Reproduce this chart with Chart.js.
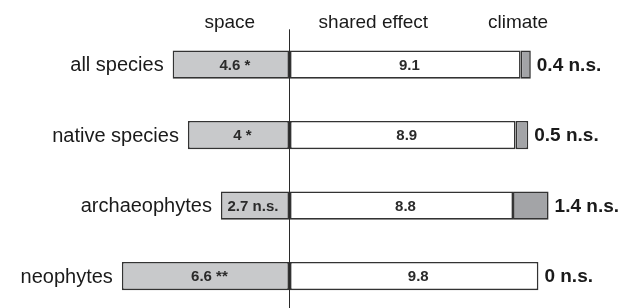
<!DOCTYPE html>
<html>
<head>
<meta charset="utf-8">
<script src="https://cdn.jsdelivr.net/npm/chart.js@4"></script>
<style>
  html, body { margin: 0; padding: 0; background: #fff; overflow: hidden; }
  #wrap { width: 635px; height: 312px; }
</style>
</head>
<body>
<div id="wrap"><canvas id="varChart" width="635" height="312"></canvas></div>
<script>
// Gruppen und Anteile
const groups = ['all species', 'native species', 'archaeophytes', 'neophytes'];
const spaceVals = [4.6, 4, 2.7, 6.6];
const sharedVals = [9.1, 8.9, 8.8, 9.8];
const climateVals = [0.4, 0.5, 1.4, 0];
const spaceSig = ['*', '*', 'n.s.', '**'];
const climateSig = ['n.s.', 'n.s.', 'n.s.', 'n.s.'];
const headers = ['space', 'shared effect', 'climate'];

const FONT = '"Liberation Sans", Arial, Helvetica, sans-serif';

// Beschriftungen neben / in den Balken
const labelPlugin = {
    id: 'labelPlugin',
    afterDatasetsDraw(chart) {
        const ctx = chart.ctx;
        const x = chart.scales.x;
        const metaSpace = chart.getDatasetMeta(0);
        const metaShared = chart.getDatasetMeta(1);
        const metaClimate = chart.getDatasetMeta(2);
        ctx.save();
        groups.forEach((g, i) => {
            const sp = metaSpace.data[i];
            const sh = metaShared.data[i];
            const cl = metaClimate.data[i];
            const y = sp.y;

            // Name links
            ctx.font = '20px ' + FONT;
            ctx.fillStyle = '#1a1a1a';
            ctx.textAlign = 'right';
            ctx.textBaseline = 'middle';
            ctx.fillText(g, Math.min(sp.x, sp.base) - 9, y + 1);

            // Werte im Balken
            ctx.font = 'bold 15px ' + FONT;
            ctx.fillStyle = '#2a2a2a';
            ctx.textAlign = 'center';
            const spTxt = spaceVals[i] + ' ' + spaceSig[i];
            ctx.fillText(spTxt, (sp.x + sp.base) / 2 + (i === 2 ? -2 : 4), y + 1);
            ctx.fillText(String(sharedVals[i]), (sh.x + sh.base) / 2 + 4, y + 1);

            // Klima rechts
            ctx.font = 'bold 19px ' + FONT;
            ctx.fillStyle = '#1a1a1a';
            ctx.textAlign = 'left';
            const right = Math.max(cl.x, sh.x);
            ctx.fillText(climateVals[i] + ' ' + climateSig[i], right + 6, y + 1);
        });

        // Kopfzeile
        ctx.font = '19px ' + FONT;
        ctx.fillStyle = '#1a1a1a';
        ctx.textAlign = 'center';
        ctx.textBaseline = 'alphabetic';
        const headPos = [-2.35, 3.3, 9.0];
        headers.forEach((h, k) => {
            ctx.fillText(h, x.getPixelForValue(headPos[k]), 28);
        });
        ctx.restore();
    }
};

const ctx = document.getElementById('varChart').getContext('2d');
const varChart = new Chart(ctx, {
    type: 'bar',
    data: {
        labels: groups,
        datasets: [
            {
                label: headers[0],
                data: spaceVals.map(v => -v),
                backgroundColor: '#c8c9cb',
                borderColor: '#333333',
                borderWidth: 1.6,
                borderSkipped: false
            },
            {
                label: headers[1],
                data: sharedVals,
                backgroundColor: '#ffffff',
                borderColor: '#333333',
                borderWidth: 1.6,
                borderSkipped: false
            },
            {
                label: headers[2],
                data: climateVals,
                backgroundColor: '#a3a4a7',
                borderColor: '#333333',
                borderWidth: 1.6,
                borderSkipped: false
            }
        ]
    },
    options: {
        indexAxis: 'y',
        responsive: false,
        animation: false,
        layout: { padding: { left: 111.7, right: 66.1, top: 29.3, bottom: 0.7 } },
        datasets: { bar: { categoryPercentage: 1, barPercentage: 0.4 } },
        plugins: { legend: { display: false }, tooltip: { enabled: false } },
        scales: {
            x: {
                stacked: true,
                min: -7,
                max: 11,
                ticks: { display: false, stepSize: 1 },
                border: { display: false },
                grid: {
                    drawTicks: false,
                    lineWidth: 1,
                    color: (c) => (c.tick && c.tick.value === 0) ? '#2a2a2a' : 'rgba(0,0,0,0)'
                }
            },
            y: {
                stacked: true,
                display: false
            }
        }
    },
    plugins: [labelPlugin]
});
</script>
</body>
</html>
